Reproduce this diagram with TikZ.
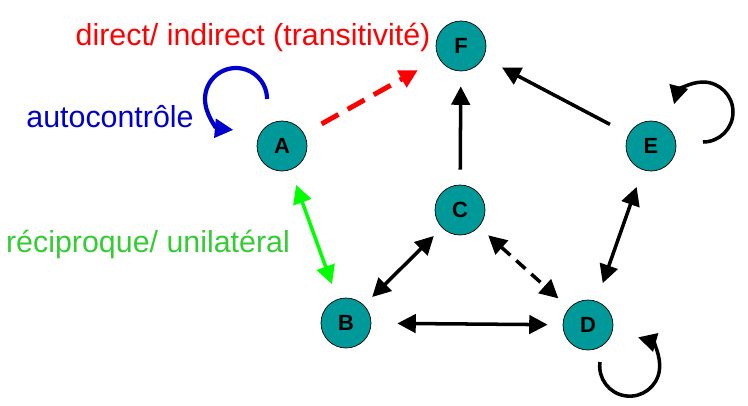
\documentclass[tikz,border=0pt]{standalone}
\usepackage{fontspec}
\setmainfont{Liberation Sans}
\usetikzlibrary{arrows.meta}

\definecolor{teal}{RGB}{0,153,153}
\definecolor{loopblue}{RGB}{0,0,204}
\definecolor{recgreen}{RGB}{51,204,51}

\begin{document}
\begin{tikzpicture}[
    x=0.02cm, y=-0.02cm,
    actor/.style={circle, draw=black, thin, fill=teal, minimum size=1cm, inner sep=0pt, font=\fontsize{12.5}{14}\selectfont\bfseries},
    link/.style={line width=2pt, -{Triangle[length=10.5pt, width=10.5pt]}},
    both/.style={line width=2pt, {Triangle[length=10.5pt, width=10.5pt]}-{Triangle[length=10.5pt, width=10.5pt]}},
    legend/.style={font=\fontsize{17.3}{20}\selectfont}
]
\useasboundingbox (0,0) rectangle (748,406);

% Actors
\node[actor] (A) at (282,146) {A};
\node[actor] (F) at (461,46) {F};
\node[actor] (E) at (651,146) {E};
\node[actor] (C) at (460,210) {C};
\node[actor] (B) at (346,323) {B};
\node[actor] (D) at (588,325) {D};

% Legend
\node[legend, text=red] (ldirect) at (253,37) {direct/ indirect (transitivité)};
\node[legend, text=loopblue] (lauto) at (110,117) {autocontrôle};
\node[legend, text=recgreen] (lrec) at (148,244) {réciproque/ unilatéral};

% Links
\draw[link, red, line width=2.8pt, dash pattern=on 11pt off 6pt, shorten <=0.4cm, shorten >=0.48cm] (A) -- (F);
\draw[both, green, shorten <=0.32cm, shorten >=0.32cm] (A) -- (B);
\draw[link, shorten <=0.3cm, shorten >=0.3cm] (C) -- (F);
\draw[link, shorten <=0.42cm, shorten >=0.42cm] (E) -- (F);
\draw[both, shorten <=0.23cm, shorten >=0.23cm] (C) -- (B);
\draw[both, dash pattern=on 7pt off 4.5pt, shorten <=0.25cm, shorten >=0.29cm] (C) -- (D);
\draw[both, shorten <=0.52cm, shorten >=0.3cm] (B) -- (D);
\draw[both, shorten <=0.38cm, shorten >=0.36cm] (D) -- (E);

% Self loops
\coordinate (la) at (267,99);
\coordinate (le) at (703,142);
\coordinate (ld) at (600,362);
\draw[link, loopblue, line width=2.4pt] (la) arc[start angle=0, end angle=265, radius=0.62cm];
\draw[link] (le) arc[start angle=-90, end angle=165, radius=0.6cm];
\draw[link] (ld) arc[start angle=172, end angle=434, radius=0.6cm];

\end{tikzpicture}
\end{document}
